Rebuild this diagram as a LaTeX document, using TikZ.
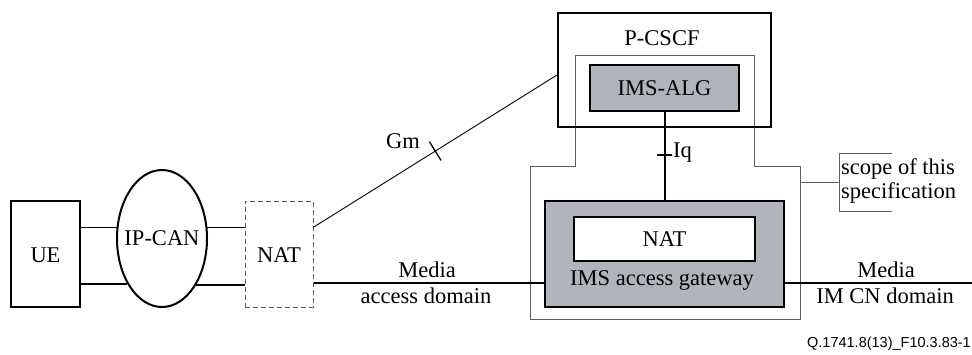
\documentclass[tikz,border=0pt]{standalone}
\usepackage{fontspec}
\setmainfont{Liberation Serif}
\newfontfamily\footfont{Liberation Sans}
\usetikzlibrary{shapes.geometric}
\definecolor{boxgray}{RGB}{178,180,187}
\definecolor{scopegray}{RGB}{95,95,95}
\begin{document}
\begin{tikzpicture}[x=1pt,y=-1pt,
  every node/.style={font=\fontsize{22.5}{25}\selectfont},
  blk/.style={draw, line width=2pt, rectangle, inner sep=0pt},
  shaded/.style={blk, fill=boxgray, line width=2.4pt},
  thinline/.style={line width=0.9pt},
  thickline/.style={line width=2pt},
  scopeline/.style={draw=scopegray, line width=1pt},
  tickmark/.style={draw, rectangle, line width=1.3pt, minimum width=0pt, inner sep=0pt, sloped}
]
\useasboundingbox (0,0) rectangle (972,354);

% scope outline
\draw[scopeline] (575,55) -- (754,55) -- (754,166) -- (800,166) -- (800,319)
  -- (530,319) -- (530,166) -- (575,166) -- cycle;

% nodes
\node[blk, minimum width=69pt, minimum height=106pt] (UE) at (45.5,254) {};
\node at (45.5,255) (UEt) {UE};
\node[draw, ellipse, line width=2pt, minimum width=90pt, minimum height=137pt, inner sep=0pt] (IPCAN) at (162,238.5) {};
\node (IPCANt) at (162,238) {IP-CAN};
\node[draw=scopegray, dashed, dash pattern=on 5pt off 3pt, line width=1pt, rectangle, minimum width=68pt, minimum height=106pt, inner sep=0pt] (NATd) at (279,254) {};
\node (NATdt) at (279,255) {NAT};

\node[blk, minimum width=213pt, minimum height=114pt] (PCSCF) at (664.5,70) {};
\node (PCSCFt) at (662,38) {P-CSCF};
\node[shaded, minimum width=149pt, minimum height=46pt] (ALG) at (664.5,88) {IMS-ALG};

\node[shaded, minimum width=239pt, minimum height=106pt] (GW) at (664.5,254) {};
\node[blk, fill=white, line width=2.4pt, minimum width=181pt, minimum height=44pt] (NATi) at (664.5,239) {NAT};
\node (GWt) at (662,280) {IMS access gateway};

% coordinates
\coordinate (thinY) at (0,227);
\coordinate (gmY) at (0,75);
\coordinate (rightEnd) at (972,283);

% UE -- IP-CAN -- NAT
\draw[thinline] (UE.east |- IPCAN.166) -- (IPCAN.166);
\draw[thinline] (IPCAN.14) -- (NATd.west |- IPCAN.14);
\draw[thickline] (UE.east |- IPCAN.233.2) -- (IPCAN.233.2);
\draw[thickline] (IPCAN.306.8) -- (NATd.west |- IPCAN.306.8);

% Media lines
\draw[thickline] (NATd.east |- rightEnd) -- (GW.west |- rightEnd);
\draw[thickline] (GW.east |- rightEnd) -- (rightEnd);
\node (m1) at (427,270) {Media};
\node (m2) at (426,296) {access domain};
\node (m3) at (886,270) {Media};
\node (m4) at (885,296) {IM CN domain};

% Gm
\draw[line width=0.9pt] (NATd.east |- IPCAN.14) -- (PCSCF.west |- gmY)
  node[tickmark, pos=0.5, minimum height=22pt] (gmtick) {};
\node (Gm) at (403,141) {Gm};

% Iq
\draw[thickline] (ALG.south) -- (GW.north)
  node[tickmark, pos=0.49, minimum height=15pt] (iqtick) {};
\node[anchor=west, inner sep=0pt] (Iq) at (673,153) {Iq};

% scope label
\coordinate (brTop) at (892,153);
\coordinate (brBot) at (892,211);
\coordinate (brMid) at (839,182);
\draw[scopeline] (800,182) -- (brMid);
\draw[scopeline] (brTop) -- (brTop -| brMid) -- (brBot -| brMid) -- (brBot);
\node[anchor=west, align=left, inner sep=0pt, font=\fontsize{22.5}{24}\selectfont] (scope) at (841,181) {scope of this\\specification};

% footer
\node[anchor=east, inner sep=0pt, font=\footfont\fontsize{14.5}{16}\selectfont] (foot) at (971,344) {Q.1741.8(13)\_F10.3.83-1};
\end{tikzpicture}
\end{document}
